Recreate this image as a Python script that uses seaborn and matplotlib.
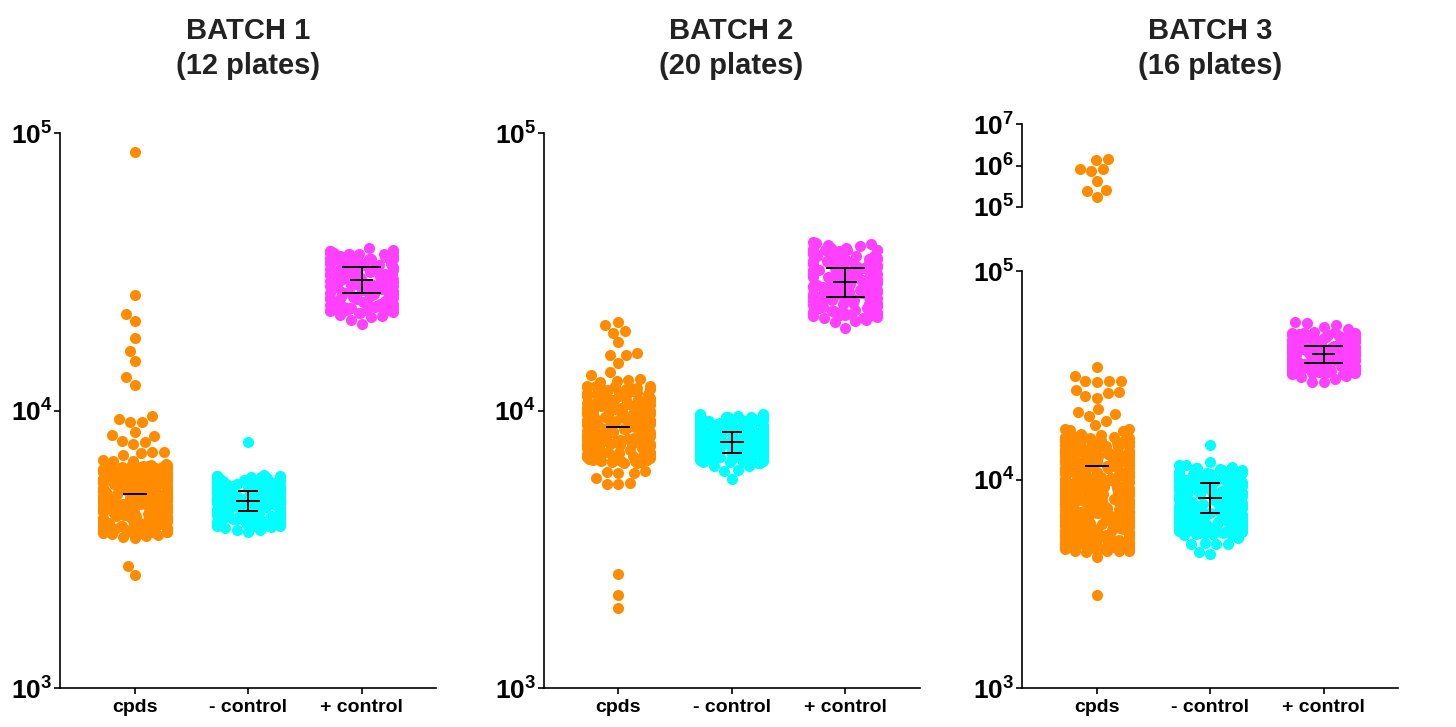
import numpy as np
import pandas as pd
import matplotlib
matplotlib.use("Agg")
import matplotlib.pyplot as plt
import seaborn as sns
from matplotlib.ticker import FixedLocator, NullLocator

# ======================
# DATA
#   *_tail = the sparse points that can be read one by one
#   *_core = estimate of the dense solid block
# ======================
titles = ["BATCH 1\n(12 plates)", "BATCH 2\n(20 plates)", "BATCH 3\n(16 plates)"]
groups = ["cpds", "- control", "+ control"]

# --- batch 1 ---
b1_cpds_tail = [85500, 26100, 22300, 21000, 18200, 16400, 15100, 13200, 12400,
                9590, 9300, 9120, 9080, 8350, 8170, 8130, 7800, 7690, 7590,
                7070, 7060, 7080, 6890, 6620, 6600, 6580,
                3590, 3560, 3530, 3510, 3480, 2760, 2560]
b1_cpds_core = [6400, 6370, 6330, 6310, 6280, 6260, 6220, 6190, 6150, 6120,
                6080, 6050, 6010, 5990, 5960, 5930, 5900, 5880, 5840, 5810,
                5790, 5770, 5720, 5690, 5670, 5650, 5610, 5580, 5560, 5530,
                5500, 5460, 5440, 5410, 5380, 5340, 5320, 5290, 5260, 5230,
                5200, 5180, 5150, 5110, 5090, 5080, 5030, 5010, 4990, 4970,
                4940, 4920, 4900, 4870, 4850, 4830, 4790, 4760, 4740, 4720,
                4700, 4660, 4640, 4620, 4590, 4570, 4550, 4510, 4480, 4450,
                4430, 4410, 4370, 4340, 4320, 4300, 4270, 4250, 4230, 4200,
                4160, 4140, 4120, 4090, 4060, 4040, 4020, 3990, 3970, 3950,
                3920, 3900, 3880, 3850, 3830, 3810, 3780, 3760, 3740, 3710,
                3690, 3680, 3650, 3640, 3620]
b1_neg_tail = [7730, 5860, 5830, 5810, 5790, 3790, 3760, 3720, 3700, 3660]
b1_neg_core = [5750, 5730, 5700, 5660, 5610, 5590, 5570, 5520, 5480, 5450,
               5430, 5390, 5350, 5320, 5300, 5260, 5210, 5190, 5170, 5130,
               5080, 5060, 5040, 5000, 4960, 4930, 4910, 4870, 4830, 4810,
               4790, 4750, 4700, 4680, 4660, 4620, 4580, 4560, 4540, 4500,
               4460, 4440, 4420, 4380, 4340, 4320, 4300, 4260, 4220, 4200,
               4180, 4140, 4100, 4080, 4060, 4020, 3980, 3960, 3940, 3900,
               3860, 3850, 3830]
b1_pos_tail = [38500, 37900, 37700, 37600, 37500, 37300,
               22100, 21900, 21700, 21200, 20500]
b1_pos_core = [37000, 36800, 36600, 36200, 35800, 35500, 35300, 35100, 34700,
               34300, 33900, 33800, 33600, 33200, 32800, 32400, 32300, 32100,
               31700, 31400, 31000, 30900, 30700, 30300, 30000, 29700, 29500,
               29300, 29000, 28700, 28400, 28200, 28100, 27800, 27500, 27200,
               26900, 26800, 26600, 26300, 26000, 25700, 25500, 25400, 25200,
               24900, 24600, 24400, 24200, 24100, 23900, 23600, 23400, 23100,
               23000, 22900, 22700, 22500]
b1_mean = [5000, 4740, 29600]
b1_lo = [np.nan, 4340, 26500]
b1_hi = [np.nan, 5150, 32900]

# --- batch 2 ---
b2_cpds_tail = [20900, 20400, 19400, 19100, 17600, 16100, 15900, 15800, 14800,
                13800, 13400, 13000, 12900, 12800, 12700,
                6050, 6000, 5970, 5950, 5700, 5470, 5460, 5420, 2570, 2160, 1940]
b2_cpds_core = [12300, 12220, 12150, 12080, 12000, 11850, 11780, 11700, 11550,
                11480, 11400, 11330, 11250, 11100, 10950, 10880, 10800, 10710,
                10650, 10520, 10450, 10380, 10250, 10120, 10060, 10000, 9950,
                9870, 9750, 9690, 9630, 9510, 9400, 9340, 9280, 9220, 9170,
                9060, 9000, 8950, 8840, 8740, 8690, 8640, 8590, 8540, 8440,
                8390, 8340, 8240, 8150, 8100, 8050, 7990, 7960, 7870, 7830,
                7780, 7690, 7600, 7560, 7520, 7470, 7430, 7350, 7310, 7270,
                7190, 7110, 7070, 7030, 6990, 6960, 6880, 6840, 6810, 6740,
                6670, 6630, 6600, 6560, 6530, 6460]
b2_neg_tail = [9720, 9700, 9680, 9660, 9600, 6310, 6290, 6110, 6050, 5650]
b2_neg_core = [9550, 9500, 9450, 9350, 9250, 9200, 9150, 9050, 8960, 8920,
               8870, 8780, 8690, 8650, 8600, 8510, 8430, 8390, 8350, 8270,
               8190, 8150, 8110, 8030, 7950, 7910, 7880, 7800, 7730, 7690,
               7660, 7590, 7520, 7480, 7450, 7380, 7310, 7280, 7250, 7180,
               7120, 7080, 7050, 6990, 6930, 6900, 6870, 6810, 6750, 6720,
               6690, 6630, 6570, 6540, 6510, 6460]
b2_pos_tail = [40500, 40100, 39800, 39600, 39300, 21300, 21000, 20900, 19900]
b2_pos_core = [38500, 38200, 38000, 37800, 37500, 37000, 36800, 36500, 36200,
               36000, 35600, 35300, 35100, 34700, 34500, 34200, 33800, 33600,
               33400, 33000, 32800, 32600, 32200, 32000, 31800, 31400, 31200,
               31000, 30600, 30400, 30300, 29900, 29800, 29600, 29200, 28900,
               28700, 28500, 28300, 28200, 27900, 27500, 27200, 27100, 26900,
               26800, 26600, 26300, 26000, 25700, 25600, 25400, 25300, 25100,
               24800, 24500, 24200, 24000, 23900, 23800, 23700, 23400, 23100,
               22900, 22700, 22600, 22400, 22300, 22100, 21900, 21700, 21500]
b2_mean = [8700, 7700, 29000]
b2_lo = [np.nan, 7060, 25600]
b2_hi = [np.nan, 8340, 32600]

# --- batch 3 ---
b3_cpds_high = [1410000, 1340000, 820000, 810000, 735000, 428000, 254000,
                240000, 175000]
b3_cpds_tail = [34500, 31300, 29700, 29600, 29600, 29400, 26800, 26300, 25900,
                25100, 24700, 21800, 21000, 20600, 20200, 19100, 18200, 17500,
                17400, 17300, 17100, 16600, 16400,
                4560, 4540, 4530, 4520, 4500, 4270, 2790]
b3_cpds_core = [16000, 15950, 15850, 15700, 15500, 15350, 15200, 15100, 14900,
                14700, 14550, 14400, 14300, 14200, 14050, 13900, 13700, 13600,
                13500, 13350, 13200, 13000, 12950, 12900, 12800, 12600, 12500,
                12400, 12300, 12200, 12100, 12000, 11800, 11750, 11700, 11600,
                11400, 11300, 11200, 11150, 11000, 10900, 10850, 10700, 10650,
                10600, 10500, 10350, 10300, 10200, 10150, 10050, 9980, 9900,
                9750, 9700, 9680, 9600, 9450, 9380, 9300, 9220, 9150, 9080,
                9000, 8880, 8810, 8780, 8750, 8620, 8560, 8500, 8400, 8370,
                8310, 8250, 8120, 8060, 8000, 7980, 7880, 7820, 7770, 7650,
                7600, 7600, 7540, 7430, 7380, 7320, 7250, 7210, 7150, 7100,
                7000, 6950, 6900, 6880, 6800, 6750, 6700, 6610, 6560, 6550,
                6520, 6420, 6380, 6330, 6280, 6240, 6200, 6150, 6070, 6030,
                5980, 5960, 5900, 5860, 5820, 5740, 5700, 5690, 5660, 5580,
                5550, 5510, 5450, 5430, 5400, 5360, 5290, 5250, 5220, 5200,
                5150, 5120, 5080, 5010, 4980, 4960, 4950, 4880, 4850, 4820,
                4760, 4740, 4730, 4700, 4650]
b3_neg_tail = [14600, 12100, 11800, 11700, 11500,
               5220, 4970, 4920, 4900, 4880, 4480, 4390]
b3_neg_core = [11300, 11200, 11100, 10900, 10750, 10650, 10600, 10400, 10250,
               10150, 10100, 9950, 9800, 9700, 9650, 9500, 9380, 9300, 9250,
               9120, 9000, 8950, 8880, 8760, 8640, 8600, 8530, 8420, 8310,
               8250, 8200, 8100, 7990, 7940, 7890, 7790, 7690, 7640, 7590,
               7500, 7400, 7350, 7310, 7220, 7130, 7080, 7040, 6950, 6870,
               6820, 6790, 6700, 6620, 6580, 6540, 6460, 6380, 6340, 6310,
               6230, 6160, 6120, 6090, 6020, 5950, 5900, 5880, 5810, 5740,
               5700, 5680, 5610, 5550, 5520, 5490, 5430]
b3_pos_tail = [57100, 56100, 55100, 54100, 52500,
               31500, 30900, 30300, 29400, 29200]
b3_pos_core = [51000, 50600, 50300, 49600, 49200, 48900, 48200, 47800, 47500,
               46900, 46500, 46200, 45600, 45300, 45000, 44400, 44100, 43800,
               43200, 42900, 42600, 42100, 41800, 41500, 41000, 40700, 40400,
               39900, 39600, 39400, 38900, 38600, 38400, 37900, 37600, 37400,
               36900, 36700, 36500, 36000, 35800, 35600, 35100, 34900, 34700,
               34300, 34000, 33900, 33500, 33200, 33100, 32700, 32500, 32300,
               32000]
b3_mean = [11650, 8190, 40000]
b3_lo = [np.nan, 6890, 36100]
b3_hi = [np.nan, 9600, 43800]

# ======================
# STYLE / LAYOUT
# ======================
sns.set_style("ticks")
plt.rcParams["font.family"] = ["Liberation Sans", "DejaVu Sans"]
plt.rcParams["mathtext.fontset"] = "custom"
plt.rcParams["mathtext.rm"] = "Liberation Sans"
plt.rcParams["mathtext.bf"] = "Liberation Sans:bold"
plt.rcParams["axes.edgecolor"] = "black"
plt.rcParams["xtick.color"] = "black"
plt.rcParams["ytick.color"] = "black"

POS = [0, 1.43, 2.86]
XLIM = (-0.946, 3.80)
COLORS = ["#FF8C00", "#00FFFF", "#FF40FF"]
CAP_HALF = [0, 0.126, 0.246]
MEAN_HALF = 0.151
DOT = 8
LW = 1.4

W, H = 1456, 727
np.random.seed(7)


def box(l, t, r, b):
    return [l / W, 1 - b / H, (r - l) / W, (b - t) / H]


def swarm(ax, x, tail, core, color):
    vals = list(tail) + list(core)
    d = pd.DataFrame({"x": np.full(len(vals), float(x)), "y": vals})
    sns.swarmplot(data=d, x="x", y="y", native_scale=True, color=color,
                  size=DOT, linewidth=0, warn_thresh=1, ax=ax, zorder=3)
    if len(core):
        # jittered copy of the dense block underneath, fills the swarm gaps
        c = pd.DataFrame({"x": np.full(len(core), float(x)), "y": core})
        sns.stripplot(data=c, x="x", y="y", native_scale=True, color=color,
                      size=DOT, linewidth=0, jitter=0.36, ax=ax, zorder=2)


def log_ticks(ax, exps):
    ax.yaxis.set_major_locator(FixedLocator([10.0 ** e for e in exps]))
    ax.yaxis.set_minor_locator(NullLocator())
    ax.set_yticklabels([r"$\mathbf{10^{%d}}$" % e for e in exps])
    ax.tick_params(axis="y", direction="out", length=4, width=1.2,
                   pad=1.5, labelsize=19, labelcolor="black")


def panel(ax, tails, cores, mean, lo, hi):
    ax.set_yscale("log")
    ax.set_xlim(*XLIM)
    ax.set_ylim(1e3, 1e5)
    for i in range(3):
        swarm(ax, POS[i], tails[i], cores[i], COLORS[i])
    for i in range(3):
        ax.hlines(mean[i], POS[i] - MEAN_HALF, POS[i] + MEAN_HALF,
                  color="black", lw=LW, zorder=5)
        if not np.isnan(lo[i]):
            ax.vlines(POS[i], lo[i], hi[i], color="black", lw=LW, zorder=5)
            ax.hlines([lo[i], hi[i]], POS[i] - CAP_HALF[i], POS[i] + CAP_HALF[i],
                      color="black", lw=LW, zorder=5)
    ax.set_xlim(*XLIM)
    ax.set_ylim(1e3, 1e5)
    ax.set_xticks(POS)
    ax.set_xticklabels(groups, fontsize=14, fontweight="bold", color="black")
    ax.tick_params(axis="x", direction="out", length=4, width=1.2, pad=4)
    log_ticks(ax, [3, 4, 5])
    ax.set_xlabel("")
    ax.set_ylabel("")
    sns.despine(ax=ax)
    for s in ["left", "bottom"]:
        ax.spines[s].set_linewidth(1.2)


fig = plt.figure(figsize=(W / 100, H / 100), dpi=100)
fig.patch.set_facecolor("white")

ax1 = fig.add_axes(box(60, 133.2, 436, 688))
ax2 = fig.add_axes(box(543.5, 133.2, 919.5, 688))
ax3 = fig.add_axes(box(1022, 271, 1398, 688))
ax3t = fig.add_axes(box(1022, 124.3, 1398, 206.7))

panel(ax1, [b1_cpds_tail, b1_neg_tail, b1_pos_tail],
      [b1_cpds_core, b1_neg_core, b1_pos_core], b1_mean, b1_lo, b1_hi)
panel(ax2, [b2_cpds_tail, b2_neg_tail, b2_pos_tail],
      [b2_cpds_core, b2_neg_core, b2_pos_core], b2_mean, b2_lo, b2_hi)
panel(ax3, [b3_cpds_tail, b3_neg_tail, b3_pos_tail],
      [b3_cpds_core, b3_neg_core, b3_pos_core], b3_mean, b3_lo, b3_hi)

# broken top segment of batch 3
ax3t.set_yscale("log")
ax3t.set_xlim(*XLIM)
ax3t.set_ylim(1e5, 1e7)
swarm(ax3t, POS[0], b3_cpds_high, [], COLORS[0])
ax3t.set_xlim(*XLIM)
ax3t.set_ylim(1e5, 1e7)
ax3t.set_xticks([])
ax3t.set_xlabel("")
ax3t.set_ylabel("")
log_ticks(ax3t, [5, 6, 7])
for s in ["top", "right", "bottom"]:
    ax3t.spines[s].set_visible(False)
ax3t.spines["left"].set_linewidth(1.2)
ax3t.patch.set_alpha(0)

for ax, t in zip([ax1, ax2, ax3], titles):
    bb = ax.get_position()
    fig.text(bb.x0 + bb.width / 2, 1 - 17 / H, t, ha="center", va="top",
             fontsize=21, fontweight="bold", color="#222222", linespacing=1.32)

fig.savefig("out.png", dpi=100)
